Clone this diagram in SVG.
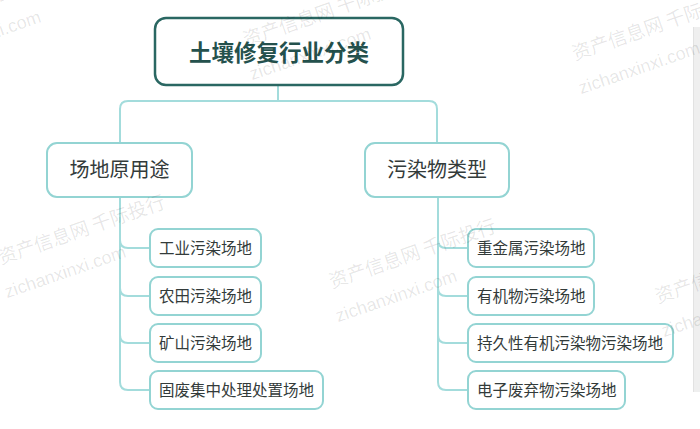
<svg xmlns="http://www.w3.org/2000/svg" xmlns:xlink="http://www.w3.org/1999/xlink" width="700" height="429" viewBox="0 0 700 429">
<style>
.root{fill:#fff;stroke:#2a6762;stroke-width:2.5}
.l2{fill:#fff;stroke:#93d4d3;stroke-width:2}
.leaf{fill:#fff;stroke:#93d4d3;stroke-width:2}
.conn{fill:none;stroke:#a3dcdc;stroke-width:2}
.t{font-family:"Noto Sans CJK SC","Noto Sans",sans-serif;fill:#333b3a}
.tt{font-family:"Noto Sans CJK SC","Noto Sans",sans-serif;fill:#24514d;font-weight:bold;font-size:22.5px}
.t2{font-size:20px}
.t3{font-size:15.5px}
.wm{font-family:"Noto Sans CJK SC","Noto Sans",sans-serif;fill:#000;fill-opacity:0.1;font-size:19px}
.wm2{font-family:"Liberation Sans",sans-serif;fill:#000;fill-opacity:0.1;font-size:18px}
</style>
<defs>
<g id="wmark">
<text class="wm" x="-9" y="7">资产信息网 千际投行</text>
<text class="wm2" x="-14" y="41">zichanxinxi.com</text>
</g>
</defs>
<rect width="700" height="429" fill="#fff"/>
<g id="connectors">
<path class="conn" d="M278,86 V101 M120,143 V109 Q120,101 128,101 H429 Q437,101 437,109 V143"/>
<path class="conn" d="M120,197 V382 Q120,390 128,390 H150 M120,240 Q120,248 128,248 H150 M120,288 Q120,296 128,296 H150 M120,335 Q120,343 128,343 H150"/>
<path class="conn" d="M438,197 V382 Q438,390 446,390 H468 M438,240 Q438,248 446,248 H468 M438,288 Q438,296 446,296 H468 M438,335 Q438,343 446,343 H468"/>
</g>
<g id="root">
<rect class="root" x="155" y="18" width="248" height="67" rx="11"/>
<text class="tt" x="279" y="61" text-anchor="middle">土壤修复行业分类</text>
</g>
<g id="site-use">
<rect class="l2" x="47" y="143" width="145" height="54" rx="10"/>
<text class="t t2" x="119.5" y="177" text-anchor="middle">场地原用途</text>
</g>
<g id="pollutant-type">
<rect class="l2" x="365" y="143" width="144" height="54" rx="10"/>
<text class="t t2" x="437" y="177" text-anchor="middle">污染物类型</text>
</g>
<g id="l1"><rect class="leaf" x="150" y="229" width="111" height="38" rx="8"/><text class="t t3" x="159" y="253.5">工业污染场地</text></g>
<g id="l2"><rect class="leaf" x="150" y="277" width="111" height="38" rx="8"/><text class="t t3" x="159" y="301.5">农田污染场地</text></g>
<g id="l3"><rect class="leaf" x="150" y="324" width="111" height="38" rx="8"/><text class="t t3" x="159" y="348.5">矿山污染场地</text></g>
<g id="l4"><rect class="leaf" x="150" y="371" width="173" height="38" rx="8"/><text class="t t3" x="159" y="395.5">固废集中处理处置场地</text></g>
<g id="r1"><rect class="leaf" x="468" y="229" width="126" height="38" rx="8"/><text class="t t3" x="477" y="253.5">重金属污染场地</text></g>
<g id="r2"><rect class="leaf" x="468" y="277" width="126" height="38" rx="8"/><text class="t t3" x="477" y="301.5">有机物污染场地</text></g>
<g id="r3"><rect class="leaf" x="468" y="324" width="205" height="38" rx="8"/><text class="t t3" x="477" y="348.5">持久性有机污染物污染场地</text></g>
<g id="r4"><rect class="leaf" x="468" y="371" width="157" height="38" rx="8"/><text class="t t3" x="477" y="395.5">电子废弃物污染场地</text></g>
<rect x="693" y="27" width="7" height="365" fill="#efefef"/>
<line x1="693.5" y1="27" x2="693.5" y2="392" stroke="#e2e2e2" stroke-width="1"/>
<g id="watermarks">
<use xlink:href="#wmark" transform="translate(7,255) rotate(-19)"/>
<use xlink:href="#wmark" transform="translate(338,279) rotate(-19)"/>
<use xlink:href="#wmark" transform="translate(252,37) rotate(-19)"/>
<use xlink:href="#wmark" transform="translate(581,51) rotate(-19)"/>
<use xlink:href="#wmark" transform="translate(664,294) rotate(-19)"/>
<use xlink:href="#wmark" transform="translate(-78,20) rotate(-19)"/>
</g>
</svg>
